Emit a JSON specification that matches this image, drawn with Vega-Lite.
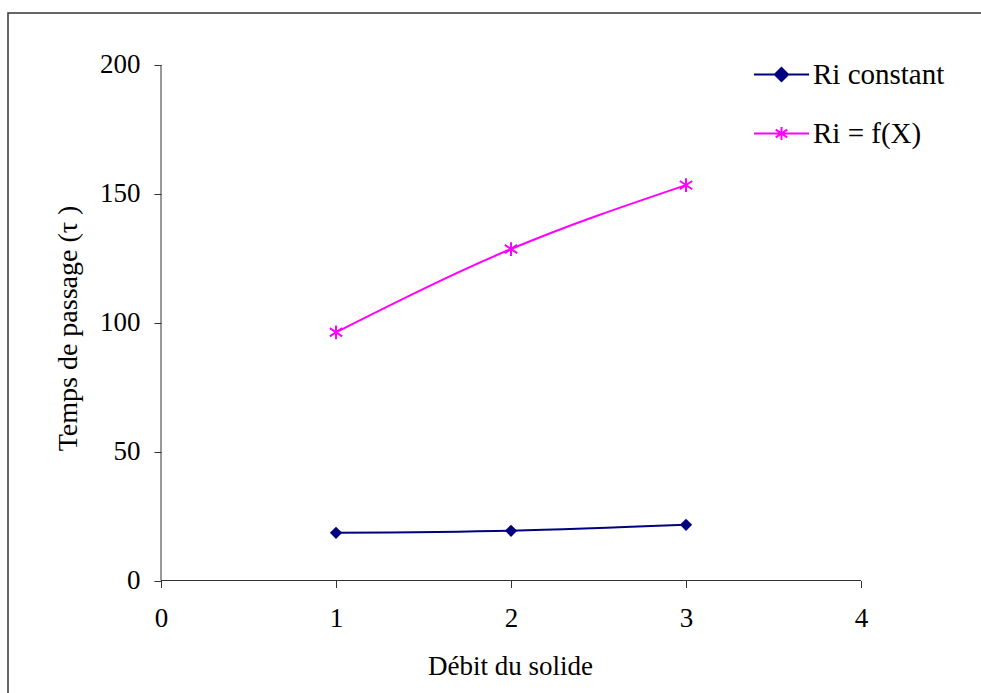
{
  "$schema": "https://vega.github.io/schema/vega-lite/v6.json",
  "width": 975,
  "height": 682,
  "autosize": {"type": "none"},
  "padding": {"left": 8, "top": 13, "right": 0, "bottom": 0},
  "background": "white",
  "config": {
    "view": {"stroke": "#333333", "strokeWidth": 1.5},
    "font": "Liberation Serif, Times New Roman, serif"
  },
  "data": {
    "values": [
      {"debit": 1, "temps": 18.5, "series": "Ri constant"},
      {"debit": 2, "temps": 19.3, "series": "Ri constant"},
      {"debit": 3, "temps": 21.6, "series": "Ri constant"},
      {"debit": 1, "temps": 96.3, "series": "Ri = f(X)"},
      {"debit": 2, "temps": 128.6, "series": "Ri = f(X)"},
      {"debit": 3, "temps": 153.4, "series": "Ri = f(X)"}
    ]
  },
  "layer": [
    {
      "mark": {"type": "line", "interpolate": "monotone", "strokeWidth": 2},
      "encoding": {
        "x": {
          "field": "debit", "type": "quantitative",
          "scale": {"domain": [-0.8743, 4.697], "nice": false, "zero": false},
          "axis": {
            "values": [0, 1, 2, 3, 4], "format": "d", "offset": -114.5, "domain": false, "grid": false,
            "tickSize": 7, "tickColor": "#333333", "tickWidth": 1,
            "labelFontSize": 27, "labelFont": "Liberation Serif, Times New Roman, serif", "labelColor": "black",
            "labelPadding": 18, "labelFlush": false, "labelOverlap": false,
            "title": "Débit du solide", "titleFont": "Liberation Serif, Times New Roman, serif", "titleFontSize": 27,
            "titleFontWeight": "normal", "titleColor": "black",
            "titleX": 502, "titleY": 86, "titleBaseline": "middle", "titleAlign": "center"
          }
        },
        "y": {
          "field": "temps", "type": "quantitative",
          "scale": {"domain": [-44.42, 220.17], "nice": false, "zero": false},
          "axis": {
            "values": [0, 50, 100, 150, 200], "format": "d", "offset": -153, "domain": false, "grid": false,
            "tickSize": 7, "tickColor": "#333333", "tickWidth": 1,
            "labelFontSize": 27, "labelFont": "Liberation Serif, Times New Roman, serif", "labelColor": "black",
            "labelPadding": 14, "labelFlush": false, "labelOverlap": false,
            "title": "Temps de passage (τ )", "titleFont": "Liberation Serif, Times New Roman, serif", "titleFontSize": 28,
            "titleFontWeight": "normal", "titleColor": "black",
            "titleX": -93, "titleY": 315, "titleAngle": 270, "titleBaseline": "middle", "titleAlign": "center"
          }
        },
        "color": {
          "field": "series", "type": "nominal",
          "scale": {"domain": ["Ri constant", "Ri = f(X)"], "range": ["#000080", "#FF00FF"]},
          "legend": {
            "title": null, "orient": "none", "legendX": 745, "legendY": 33,
            "padding": 0, "symbolSize": 3025, "symbolStrokeWidth": 2,
            "labelFontSize": 29, "labelFont": "Liberation Serif, Times New Roman, serif", "labelColor": "black",
            "labelOffset": 3, "rowPadding": 15,
            "encode": {
              "symbols": {
                "update": {
                  "shape": {"signal": "datum.value === 'Ri constant' ? 'M-1,0L1,0M0,-0.24L0.24,0L0,0.24L-0.24,0Z' : 'M-1,0L1,0M0,-0.24L0,0.24M-0.21,-0.14L0.21,0.14M-0.21,0.14L0.21,-0.14'"},
                  "fill": {"signal": "datum.value === 'Ri constant' ? '#000080' : 'transparent'"},
                  "stroke": {"signal": "datum.value === 'Ri constant' ? '#000080' : '#FF00FF'"},
                  "strokeWidth": {"value": 2}
                }
              }
            }
          }
        }
      }
    },
    {
      "transform": [{"filter": "datum.series === 'Ri constant'"}],
      "mark": {"type": "point", "shape": "diamond", "filled": true, "color": "#000080", "size": 150, "opacity": 1},
      "encoding": {
        "x": {"field": "debit", "type": "quantitative"},
        "y": {"field": "temps", "type": "quantitative"}
      }
    },
    {
      "transform": [{"filter": "datum.series === 'Ri = f(X)'"}],
      "mark": {"type": "point", "shape": "M0,-1L0,1M-0.9,-0.6L0.9,0.6M-0.9,0.6L0.9,-0.6", "filled": false, "color": "#FF00FF", "strokeWidth": 2, "size": 190, "opacity": 1},
      "encoding": {
        "x": {"field": "debit", "type": "quantitative"},
        "y": {"field": "temps", "type": "quantitative"}
      }
    },
    {
      "data": {"values": [{}]},
      "mark": {"type": "rule", "color": "#333333", "strokeWidth": 1},
      "encoding": {
        "x": {"datum": 0, "type": "quantitative"},
        "x2": {"datum": 4},
        "y": {"datum": 0, "type": "quantitative"}
      }
    },
    {
      "data": {"values": [{}]},
      "mark": {"type": "rule", "color": "#333333", "strokeWidth": 1},
      "encoding": {
        "x": {"datum": 0, "type": "quantitative"},
        "y": {"datum": 0, "type": "quantitative"},
        "y2": {"datum": 200}
      }
    }
  ]
}
